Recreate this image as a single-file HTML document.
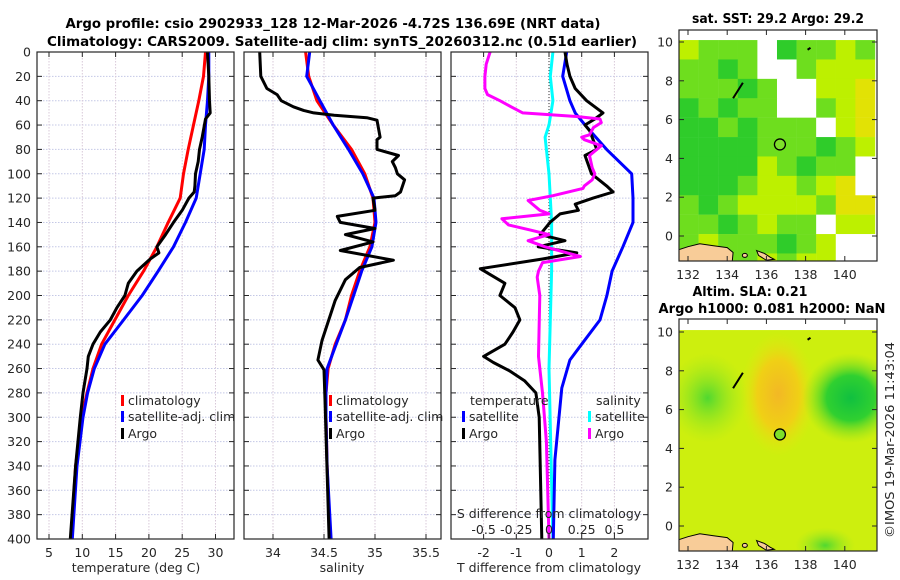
<!DOCTYPE html>
<html><head><meta charset="utf-8">
<style>
html,body{margin:0;padding:0;background:#fff;}
svg{display:block;font-family:"DejaVu Sans","Liberation Sans",sans-serif;}
.t{font-size:12.5px;fill:#262626;}
.b{font-size:13px;font-weight:bold;fill:#000;}
</style></head>
<body>
<svg id="fig" width="900" height="580" viewBox="0 0 900 580" xmlns="http://www.w3.org/2000/svg">
<defs>
<clipPath id="c1"><rect x="37" y="52" width="197" height="487"/></clipPath>
<clipPath id="c2"><rect x="244" y="52" width="197" height="487"/></clipPath>
<clipPath id="c3"><rect x="451" y="52" width="197" height="487"/></clipPath>
<clipPath id="cm1"><rect x="679" y="30" width="198" height="231"/></clipPath>
<clipPath id="cm2"><rect x="679" y="319" width="198" height="232"/></clipPath>
<radialGradient id="gOr"><stop offset="0" stop-color="#f2b825"/><stop offset="0.55" stop-color="#f0d015"/><stop offset="1" stop-color="#e0e810" stop-opacity="0"/></radialGradient>
<radialGradient id="gGr"><stop offset="0" stop-color="#10c040"/><stop offset="0.5" stop-color="#30d030"/><stop offset="1" stop-color="#90e020" stop-opacity="0"/></radialGradient>
<radialGradient id="gLg"><stop offset="0" stop-color="#50d830"/><stop offset="1" stop-color="#a0e820" stop-opacity="0"/></radialGradient>
</defs>
<text class="b" x="333" y="28" text-anchor="middle" textLength="535" lengthAdjust="spacingAndGlyphs">Argo profile: csio 2902933_128 12-Mar-2026 -4.72S 136.69E (NRT data)</text>
<text class="b" x="342" y="46" text-anchor="middle" textLength="590" lengthAdjust="spacingAndGlyphs">Climatology: CARS2009. Satellite-adj clim: synTS_20260312.nc (0.51d earlier)</text>
<text class="b" x="778" y="23" text-anchor="middle" textLength="172" lengthAdjust="spacingAndGlyphs">sat. SST: 29.2 Argo: 29.2</text>
<text class="b" x="750" y="296" text-anchor="middle" textLength="115" lengthAdjust="spacingAndGlyphs">Altim. SLA: 0.21</text>
<text class="b" x="772" y="313" text-anchor="middle" textLength="227" lengthAdjust="spacingAndGlyphs">Argo h1000: 0.081 h2000: NaN</text>
<text class="t" transform="translate(894,440) rotate(-90)" text-anchor="middle" textLength="196" lengthAdjust="spacingAndGlyphs">©IMOS 19-Mar-2026 11:43:04</text>
<g id="layer"></g>
</svg>
<script>
// ---------- data ----------
const depthTicks=[0,20,40,60,80,100,120,140,160,180,200,220,240,260,280,300,320,340,360,380,400];
const tempTicks=[5,10,15,20,25,30];
const salTicks=[34,34.5,35,35.5];
const tdiffTicks=[-2,-1,0,1,2];
const sdiffTicks=[-0.5,-0.25,0,0.25,0.5];
const sdiffLabels=["-0.5","-0.25","0","0.25","0.5"];

const argoTDepth=[0,20,40,50,55,70,80,90,100,110,115,120,130,140,150,160,165,170,180,190,200,210,220,230,240,250,260,280,300,340,400];
const argoT=[28.8,29.0,29.1,29.2,28.5,28.0,27.6,27.4,27.0,26.9,26.8,26.0,25.0,23.7,22.5,21.2,21.5,20.2,18.2,16.9,16.4,15.2,14.2,12.7,11.6,10.9,10.7,10.1,9.7,9.0,8.2];
const climDepth=[0,20,40,60,80,100,120,140,160,180,200,220,240,260,280,300,340,400];
const climT=[28.5,28.2,27.5,26.7,25.9,25.2,24.7,22.9,21.2,19.2,16.9,14.9,12.9,11.6,10.7,9.9,9.0,8.3];
const satT=[29.0,29.0,28.8,28.5,28.3,27.7,27.1,25.5,23.7,21.4,19.0,16.2,13.4,11.8,10.8,10.1,9.2,8.5];

const argoSDepth=[0,20,30,35,40,45,48,50,52,54,56,70,72,80,85,90,95,100,105,115,118,120,130,135,140,145,150,156,163,169,171,177,187,204,237,253,261,286,400];
const argoS=[33.87,33.88,33.94,34.04,34.08,34.2,34.3,34.4,34.6,34.92,35.02,35.05,35.02,35.02,35.23,35.17,35.2,35.22,35.29,35.25,35.2,34.98,35.0,34.63,34.66,35.0,34.71,34.98,34.66,35.05,35.18,34.85,34.71,34.61,34.48,34.44,34.5,34.51,34.55];
const climS=[34.32,34.35,34.43,34.59,34.77,34.9,34.98,35.0,34.95,34.85,34.77,34.71,34.61,34.54,34.52,34.52,34.53,34.56];
const satS=[34.36,34.33,34.46,34.59,34.74,34.88,34.99,35.01,34.97,34.87,34.79,34.71,34.62,34.53,34.52,34.52,34.53,34.57];

const tSatDiffDepth=[0,20,40,50,60,80,100,120,140,160,180,200,220,240,253,276,335,400];
const tSatDiff=[0.54,0.42,0.64,0.8,1.1,1.76,2.53,2.57,2.57,2.26,1.93,1.77,1.56,1.0,0.64,0.39,0.18,0.13];
const tArgoDiffDepth=[0,10,20,30,40,45,50,55,60,65,80,85,100,110,115,120,125,130,133,140,150,155,160,165,170,178,190,200,210,220,230,240,250,255,262,270,280,300,400];
const tArgoDiff=[0.49,0.55,0.64,0.8,1.15,1.4,1.65,1.4,1.1,1.25,1.46,1.1,1.3,1.76,1.96,1.35,0.8,0.9,0.34,0.03,-0.27,0.49,-0.33,0.85,-0.2,-2.1,-1.35,-1.5,-1.04,-0.89,-1.1,-1.35,-2.0,-1.7,-1.2,-0.75,-0.4,-0.3,-0.22];
const sSatDiffDepth=[0,20,40,60,70,80,100,140,180,260,400];
const sSatDiff=[0.03,0.01,0.03,0.0,-0.03,-0.02,0.0,0.02,0.02,0.0,0.03];
const sArgoDiffDepth=[0,10,20,30,35,40,45,50,53,55,58,62,68,70,72,77,85,95,100,105,110,112,118,122,130,133,137,142,146,150,155,160,168,173,180,185,200,250,280,320,400];
const sArgoDiff=[-0.45,-0.48,-0.49,-0.49,-0.47,-0.375,-0.29,-0.2,0.21,0.39,0.4,0.34,0.31,0.25,0.27,0.4,0.31,0.33,0.35,0.33,0.27,0.26,0.03,-0.16,-0.07,0.0,-0.36,-0.31,-0.15,0.0,-0.16,-0.03,0.24,-0.05,-0.08,-0.09,-0.07,-0.08,-0.05,-0.02,0.0];

const lonTicks=[132,134,136,138,140];
const latTicks=[0,2,4,6,8,10];
const argoLon=136.69, argoLat=4.72;
// SST map: rows from lat 10.1 downward (1 deg each), cols from lon 131.54 (1 deg each)
const sstRows=[
"yGGGwgGGyG",
"GGgGwwGyyy",
"GGGgGwwyyY",
"gGgGGwwGyY",
"ggGgGGGwyY",
"ggggGGGgGy",
"ggggyGgGGw",
"gggGyyGyYw",
"GgGyyyyGYY",
"GGgGyGGwyy",
"GyGGGgGyww",
"yyGGyGyyww"];
const sstColors={g:"#2fcc2a",G:"#6ede1e",y:"#bdf000",Y:"#e2e205",w:"#ffffff"};

// ---------- helpers ----------
const NS="http://www.w3.org/2000/svg";
const layer=document.getElementById('layer');
function mk(tag,attrs,parent){const e=document.createElementNS(NS,tag);for(const k in attrs)e.setAttribute(k,attrs[k]);(parent||layer).appendChild(e);return e;}
const Y0=52,Y1=539;
const yD=d=>Y0+d*(Y1-Y0)/400;
const xT=t=>49+(t-5)*6.66;
const xS=s=>273+(s-34)*102;
const xTd=t=>549+t*32.7;
const xSd=s=>549+s*130.8;

function panel(x0,name,clip,xticks,xfun){
  const g=mk('g',{});
  
  
  mk('rect',{x:x0,y:Y0,width:197,height:487,fill:'#fff'},g);
  depthTicks.forEach(d=>{mk('line',{x1:x0,x2:x0+197,y1:yD(d),y2:yD(d),stroke:'#c4c8e6','stroke-width':1,'stroke-dasharray':'1.5,1.5'},g);});
  xticks.forEach(v=>{mk('line',{x1:xfun(v),x2:xfun(v),y1:Y0,y2:Y1,stroke:'#d8c8d8','stroke-width':1,'stroke-dasharray':'1.5,1.5'},g);});
  return g;
}
function frame(x0,g,xticks,xfun,bottomTicks){
  mk('rect',{x:x0,y:Y0,width:197,height:487,fill:'none',stroke:'#262626','stroke-width':1.2},g);
  depthTicks.forEach(d=>{mk('line',{x1:x0,x2:x0+5,y1:yD(d),y2:yD(d),stroke:'#262626'},g);mk('line',{x1:x0+192,x2:x0+197,y1:yD(d),y2:yD(d),stroke:'#262626'},g);});
  if(bottomTicks) xticks.forEach(v=>{mk('line',{x1:xfun(v),x2:xfun(v),y1:Y1,y2:Y1-5,stroke:'#262626'},g);mk('line',{x1:xfun(v),x2:xfun(v),y1:Y0,y2:Y0+5,stroke:'#262626'},g);});
}
function line(vals,depths,xfun,color,clip,name,g){
  const pts=vals.map((v,i)=>xfun(v).toFixed(1)+','+yD(depths[i]).toFixed(1)).join(' ');
  const p=mk('polyline',{points:pts,fill:'none',stroke:color,'stroke-width':3,'stroke-linejoin':'round','clip-path':'url(#'+clip+')'},g);
  
  
}
function txt(s,x,y,anchor,parent,name,cls){
  const t=mk('text',{x:x,y:y,'text-anchor':anchor||'start',class:cls||'t'},parent);
  t.textContent=s;
  
  
  return t;
}
function legendEntry(x,y,color,label,g,name){
  const r=mk('rect',{x:x,y:y-10,width:3,height:11,fill:color},g);
  const t=txt(label,x+7,y,'start',g,name);
}

// ---------- panel 1: temperature ----------
const g1=panel(37,'temperature-panel','c1',tempTicks,xT);
line(climT,climDepth,xT,'#ff0000','c1','climatology-temperature-line',g1);
line(satT,climDepth,xT,'#0000ff','c1','satellite-temperature-line',g1);
line(argoT,argoTDepth,xT,'#000000','c1','argo-temperature-line',g1);
frame(37,g1,tempTicks,xT,true);
depthTicks.forEach(d=>txt(String(d),31,yD(d)+4.5,'end',g1,'depth-tick-label'));
tempTicks.forEach(v=>txt(String(v),xT(v),557,'middle',g1,'temperature-tick-label'));
txt('temperature (deg C)',136,572,'middle',g1,'temperature-axis-title');
legendEntry(121,405,'#ff0000','climatology',g1,'legend-climatology');
legendEntry(121,421,'#0000ff','satellite-adj. clim',g1,'legend-satellite-adj-clim');
legendEntry(121,438,'#000000','Argo',g1,'legend-argo');

// ---------- panel 2: salinity ----------
const g2=panel(244,'salinity-panel','c2',salTicks,xS);
line(climS,climDepth,xS,'#ff0000','c2','climatology-salinity-line',g2);
line(satS,climDepth,xS,'#0000ff','c2','satellite-salinity-line',g2);
line(argoS,argoSDepth,xS,'#000000','c2','argo-salinity-line',g2);
frame(244,g2,salTicks,xS,true);
salTicks.forEach(v=>txt(String(v),xS(v),557,'middle',g2,'salinity-tick-label'));
txt('salinity',342,572,'middle',g2,'salinity-axis-title');
legendEntry(329,405,'#ff0000','climatology',g2,'legend-climatology-2');
legendEntry(329,421,'#0000ff','satellite-adj. clim',g2,'legend-satellite-adj-clim-2');
legendEntry(329,438,'#000000','Argo',g2,'legend-argo-2');

// ---------- panel 3: differences ----------
const g3=panel(451,'difference-panel','c3',tdiffTicks,xTd);
mk('line',{x1:549,x2:549,y1:Y0,y2:Y1,stroke:'#333','stroke-width':1,'stroke-dasharray':'1,2'},g3);
line(sSatDiff,sSatDiffDepth,xSd,'#00ffff','c3','salinity-satellite-diff-line',g3);
line(tSatDiff,tSatDiffDepth,xTd,'#0000ff','c3','temperature-satellite-diff-line',g3);
line(tArgoDiff,tArgoDiffDepth,xTd,'#000000','c3','temperature-argo-diff-line',g3);
line(sArgoDiff,sArgoDiffDepth,xSd,'#ff00ff','c3','salinity-argo-diff-line',g3);
frame(451,g3,tdiffTicks,xTd,true);
tdiffTicks.forEach(v=>txt(String(v),xTd(v),557,'middle',g3,'tdiff-tick-label'));
txt('T difference from climatology',549,572,'middle',g3,'tdiff-axis-title');
sdiffTicks.forEach((v,i)=>txt(sdiffLabels[i],xSd(v),534,'middle',g3,'sdiff-tick-label'));
txt('S difference from climatology',549,518,'middle',g3,'sdiff-axis-title');
txt('temperature',470,405,'start',g3,'legend-temperature-heading');
txt('salinity',596,405,'start',g3,'legend-salinity-heading');
legendEntry(462,421,'#0000ff','satellite',g3,'legend-t-satellite');
legendEntry(462,438,'#000000','Argo',g3,'legend-t-argo');
legendEntry(588,421,'#00ffff','satellite',g3,'legend-s-satellite');
legendEntry(588,438,'#ff00ff','Argo',g3,'legend-s-argo');

// ---------- maps ----------
const mx=lon=>688+(lon-132)*19.6;
const my1=lat=>236-lat*19.4;
const my2=lat=>526-lat*19.4;
function land(my,g,clip){
  const coast=[[131.4,-0.75],[132,-0.55],[132.6,-0.4],[133.3,-0.5],[134,-0.6],[134.3,-0.85],[134.25,-1.4],[131.4,-1.4]];
  mk('polygon',{points:coast.map(p=>mx(p[0])+','+my(p[1])).join(' '),fill:'#f8cc98',stroke:'#000','stroke-width':1,'clip-path':'url(#'+clip+')'},g);
  const isl=[[135.5,-0.75],[135.9,-0.9],[136.2,-1.1],[136.4,-1.2],[136.0,-1.25],[135.6,-1.0]];
  mk('polygon',{points:isl.map(p=>mx(p[0])+','+my(p[1])).join(' '),fill:'#f8cc98',stroke:'#000','stroke-width':1},g);
  mk('ellipse',{cx:mx(134.9),cy:my(-1.0),rx:2.5,ry:2,fill:'#f8cc98',stroke:'#000'},g);
  mk('path',{d:'M'+mx(134.3)+' '+my(7.1)+' L'+mx(134.8)+' '+my(7.9),stroke:'#000','stroke-width':2},g);
  mk('path',{d:'M'+mx(138.1)+' '+my(9.6)+' L'+mx(138.25)+' '+my(9.7),stroke:'#000','stroke-width':2},g);
}
function mapAxes(my,top,bottom,g){
  mk('rect',{x:679,y:top,width:198,height:bottom-top,fill:'none',stroke:'#262626','stroke-width':1.2},g);
  latTicks.forEach(l=>{mk('line',{x1:679,x2:684,y1:my(l),y2:my(l),stroke:'#262626'},g);mk('line',{x1:872,x2:877,y1:my(l),y2:my(l),stroke:'#262626'},g);txt(String(l),673,my(l)+4.5,'end',g,'map-lat-tick-label');});
  lonTicks.forEach(l=>{mk('line',{x1:mx(l),x2:mx(l),y1:bottom,y2:bottom-5,stroke:'#262626'},g);mk('line',{x1:mx(l),x2:mx(l),y1:top,y2:top+5,stroke:'#262626'},g);txt(String(l),mx(l),bottom+18,'middle',g,'map-lon-tick-label');});
  const c=mk('circle',{cx:mx(argoLon),cy:my(argoLat),r:5.5,fill:'#7ee02a',stroke:'#000','stroke-width':1.3},g);
  
  
}
// SST map
const gm1=mk('g',{});


mk('rect',{x:679,y:30,width:198,height:231,fill:'#fff'},gm1);
const gc1=mk('g',{'clip-path':'url(#cm1)'},gm1);
sstRows.forEach((row,r)=>{[...row].forEach((ch,c)=>{
  const cell=mk('rect',{x:mx(131.54+c),y:my1(10.1-r),width:19.8,height:19.6,fill:sstColors[ch]},gc1);
  
  
});});
land(my1,gm1,'cm1');
mapAxes(my1,30,261,gm1);
// SLA map
const gm2=mk('g',{});


mk('rect',{x:679,y:319,width:198,height:232,fill:'#fff'},gm2);
const gc2=mk('g',{'clip-path':'url(#cm2)'},gm2);
mk('rect',{x:679,y:my2(10.1),width:198,height:240,fill:'#cdef0e'},gc2);
mk('ellipse',{cx:mx(136.6),cy:my2(6.8),rx:38,ry:62,fill:'url(#gOr)'},gc2);
mk('ellipse',{cx:mx(140.3),cy:my2(6.6),rx:48,ry:45,fill:'url(#gGr)'},gc2);
mk('ellipse',{cx:mx(133.0),cy:my2(6.6),rx:40,ry:45,fill:'url(#gLg)'},gc2);
mk('ellipse',{cx:mx(139.0),cy:my2(-1.0),rx:30,ry:18,fill:'url(#gLg)'},gc2);
land(my2,gm2,'cm2');
mapAxes(my2,319,551,gm2);
</script>
</body></html>
